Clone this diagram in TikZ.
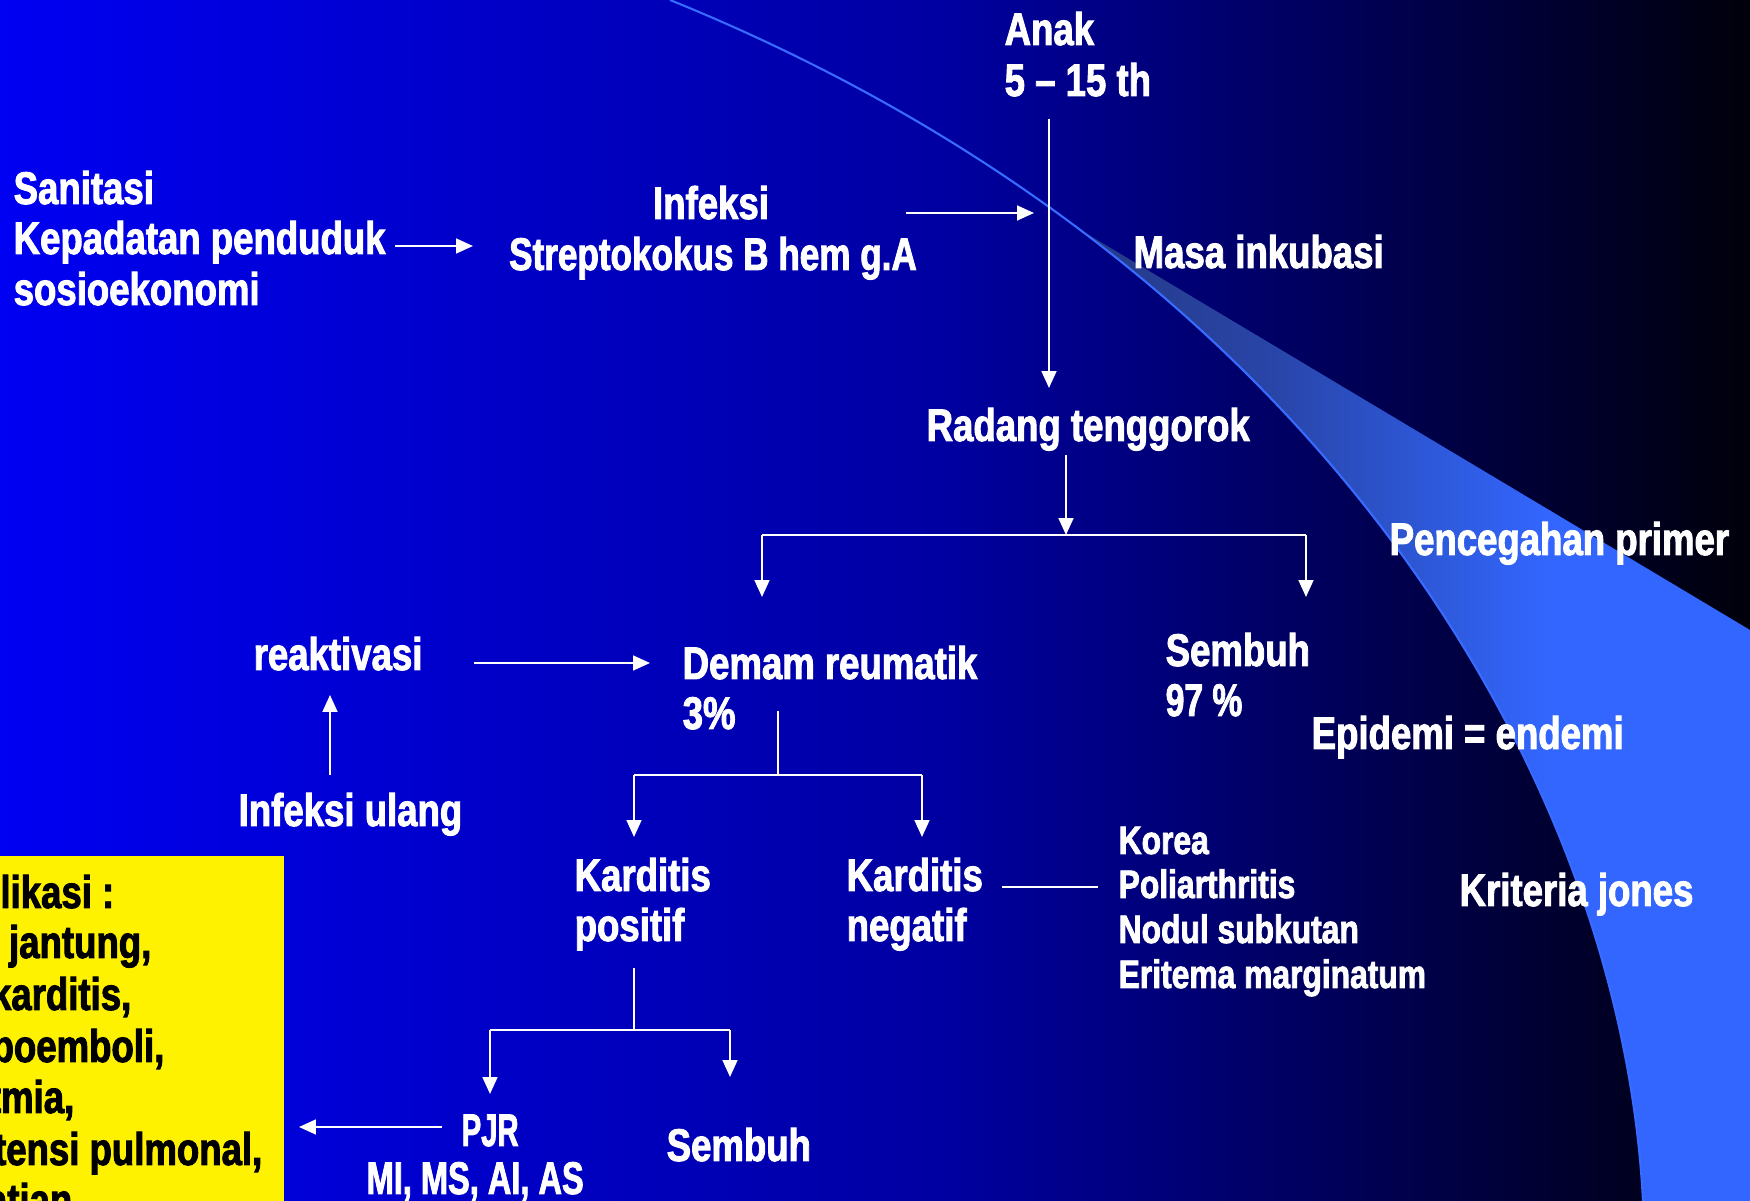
\documentclass[tikz,border=0pt]{standalone}
\usepackage{fontspec}
\usetikzlibrary{arrows.meta}
\newfontfamily\imp{Liberation Sans}[FakeStretch=0.8, BoldFeatures={FakeBold=2}]
\pgfdeclarehorizontalshading{bgshade}{100bp}{rgb(0bp)=(0,0,0.95); rgb(25bp)=(0,0,0.95); rgb(52bp)=(0,0,0.63); rgb(62bp)=(0,0,0.38); rgb(67bp)=(0,0,0.25); rgb(75bp)=(0,0,0.04); rgb(100bp)=(0,0,0.04)}
\pgfdeclarehorizontalshading{bandshade}{100bp}{rgb(0bp)=(0.14,0.22,0.5); rgb(42.5bp)=(0.14,0.22,0.5); rgb(52.9bp)=(0.16,0.27,0.66); rgb(60.6bp)=(0.18,0.35,0.86); rgb(65.7bp)=(0.2,0.4,1); rgb(100bp)=(0.2,0.4,1)}
\definecolor{bandline}{rgb}{0.22,0.42,1}
\tikzset{
  lbl/.style={text=white, font=\imp\bfseries\fontsize{13pt}{15pt}\selectfont, inner sep=0pt, anchor=base west},
  lbls/.style={lbl, font=\imp\bfseries\fontsize{11.3pt}{13pt}\selectfont},
  blk/.style={lbl, text=black, anchor=base east},
  arr/.style={draw=white, line width=0.62pt, -{Triangle[length=4.8pt,width=4.2pt]}},
  ln/.style={draw=white, line width=0.62pt}
}
\begin{document}
\begin{tikzpicture}[x=0.01cm,y=-0.01cm]
\clip (0,0) rectangle (1750,1201);
\shade[shading=bgshade] (0,0) rectangle (1750,1201);
% swoosh band
\coordinate (cross) at (1047,210);
\coordinate (bandR) at (1750,630);
\begin{scope}
  \clip (cross) -- (bandR) -- (1750,1201) -- (1040,1201) -- cycle;
  \shade[shading=bandshade] (670,0) .. controls (1300,255) and (1620,760) .. (1643,1201) -- (1750,1201) -- (1750,0) -- cycle;
\end{scope}
\draw[bandline, line width=0.6pt] (670,0) .. controls (1300,255) and (1620,760) .. (1643,1201);
% yellow box
\fill[yellow] (0,856) rectangle (284,1201);
\node[blk] (k1) at (115,908) {likasi :};
\node[blk] (k2) at (152,958) {jantung,};
\node[blk] (k3) at (132,1010) {karditis,};
\node[blk] (k4) at (165,1062) {boemboli,};
\node[blk] (k5) at (75,1113) {tmia,};
\node[blk] (k6) at (263,1165) {tensi pulmonal,};
\node[blk] (k7) at (73,1216) {atian};
% texts
\node[lbl] (anak) at (1004,45) {Anak};
\node[lbl] (umur) at (1004,96) {5 – 15 th};
\node[lbl] (san1) at (13,204) {Sanitasi};
\node[lbl] (san2) at (13,254) {Kepadatan penduduk};
\node[lbl] (san3) at (13,305) {sosioekonomi};
\node[lbl, anchor=base] (inf1) at (711,219) {Infeksi};
\node[lbl, anchor=base] (inf2) at (713,270) {\scalebox{0.96}[1]{Streptokokus B hem g.A}};
\node[lbl] (masa) at (1133,268) {Masa inkubasi};
\node[lbl] (radang) at (926,441) {Radang tenggorok};
\node[lbl] (dem1) at (682,679) {Demam reumatik};
\node[lbl] (dem2) at (682,729) {3\%};
\node[lbl] (sem1) at (1165,666) {Sembuh};
\node[lbl] (sem2) at (1165,716) {\scalebox{0.92}[1]{97 \%}};
\node[lbl] (pen) at (1389,555) {Pencegahan primer};
\node[lbl] (epi) at (1311,749) {Epidemi = endemi};
\node[lbl] (reak) at (253,670) {reaktivasi};
\node[lbl] (ulang) at (238,826) {Infeksi ulang};
\node[lbl] (kp1) at (574,891) {Karditis};
\node[lbl] (kp2) at (574,941) {positif};
\node[lbl] (kn1) at (846,891) {Karditis};
\node[lbl] (kn2) at (846,941) {negatif};
\node[lbls] (kor) at (1118,854) {Korea};
\node[lbls] (pol) at (1118,898) {Poliarthritis};
\node[lbls] (nod) at (1118,943) {Nodul subkutan};
\node[lbls] (eri) at (1118,988) {Eritema marginatum};
\node[lbl] (krit) at (1459,906) {Kriteria jones};
\node[lbl] (pjr) at (461,1146) {\scalebox{0.8}[1]{PJR}};
\node[lbl] (mi) at (366,1194) {\scalebox{0.89}[1]{MI, MS, AI, AS}};
\node[lbl] (sem3) at (666,1161) {Sembuh};
% connector coordinates
\coordinate (a1s) at (395,246); \coordinate (a1e) at (473,246);
\coordinate (a2s) at (906,213); \coordinate (a2e) at (1034,213);
\coordinate (a3s) at (1049,119); \coordinate (a3e) at (1049,388);
\coordinate (a4s) at (1066,455); \coordinate (a4e) at (1066,535);
\coordinate (b1l) at (762,535); \coordinate (b1r) at (1306,535);
\coordinate (b1ld) at (762,597); \coordinate (b1rd) at (1306,597);
\coordinate (a5s) at (474,663); \coordinate (a5e) at (650,663);
\coordinate (a6s) at (330,775); \coordinate (a6e) at (330,695);
\coordinate (a7s) at (778,711); \coordinate (a7e) at (778,775);
\coordinate (b2l) at (634,775); \coordinate (b2r) at (922,775);
\coordinate (b2ld) at (634,837); \coordinate (b2rd) at (922,837);
\coordinate (a8s) at (1002,887); \coordinate (a8e) at (1098,887);
\coordinate (a9s) at (634,968); \coordinate (a9e) at (634,1030);
\coordinate (b3l) at (490,1030); \coordinate (b3r) at (730,1030);
\coordinate (b3ld) at (490,1094); \coordinate (b3rd) at (730,1077);
\coordinate (a10s) at (442,1127); \coordinate (a10e) at (299,1127);
% connectors
\draw[arr] (a1s) -- (a1e);
\draw[arr] (a2s) -- (a2e);
\draw[arr] (a3s) -- (a3e);
\draw[arr] (a4s) -- (a4e);
\draw[ln] (b1l) -- (b1r);
\draw[arr] (b1l) -- (b1ld);
\draw[arr] (b1r) -- (b1rd);
\draw[arr] (a5s) -- (a5e);
\draw[arr] (a6s) -- (a6e);
\draw[ln] (a7s) -- (a7e);
\draw[ln] (b2l) -- (b2r);
\draw[arr] (b2l) -- (b2ld);
\draw[arr] (b2r) -- (b2rd);
\draw[ln] (a8s) -- (a8e);
\draw[ln] (a9s) -- (a9e);
\draw[ln] (b3l) -- (b3r);
\draw[arr] (b3l) -- (b3ld);
\draw[arr] (b3r) -- (b3rd);
\draw[arr] (a10s) -- (a10e);
\end{tikzpicture}
\end{document}
